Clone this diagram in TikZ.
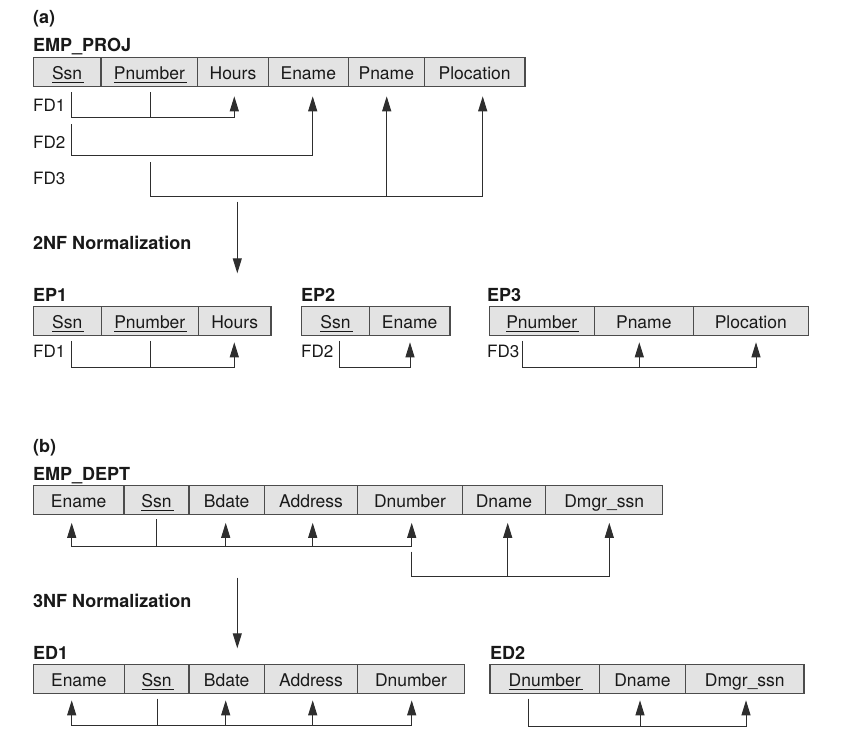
\documentclass[tikz,border=0pt]{standalone}
\usepackage{fontspec}
\setmainfont{TeX Gyre Heros}
\usetikzlibrary{arrows.meta}
\newcommand\cellfont{\fontsize{17.5}{19}\selectfont}
\newcommand\fdfont{\fontsize{17}{19}\selectfont}
\newcommand\lblfont{\fontsize{18}{20}\selectfont\bfseries}
\newcommand\ulk[1]{\setbox0\hbox{#1}\rlap{\smash{\rule[-3.8pt]{\dimexpr\wd0+2pt\relax}{0.9pt}}}\box0}
\tikzset{
  cell/.style={draw=black!70, fill=black!11, line width=1.1pt, minimum height=29.5pt, inner sep=0pt, text height=14pt, text depth=0pt, font=\cellfont, text=black!90},
  fd/.style={draw=black!82, line width=1pt},
  arr/.style={fd, -{Triangle[length=15pt,width=9pt]}},
  lbl/.style={anchor=base west, inner sep=0pt, font=\lblfont, text=black!90},
  fdl/.style={anchor=base west, inner sep=0pt, font=\fdfont, text=black!90},
}
\begin{document}
\begin{tikzpicture}[x=1pt,y=-1pt]
\fill[white] (0,0) rectangle (845,740);
\useasboundingbox (0,0) rectangle (845,740);

% ---------------- (a) ----------------
\node[lbl] (la) at (33,23) {(a)};
\node[lbl] (lpj) at (33,51.5) {EMP\_PROJ};
\node[cell, minimum width=67.7pt]  (pj-ssn)   at (67.15,72) {\ulk{Ssn}};
\node[cell, minimum width=96.7pt]  (pj-pnum)  at (149.35,72) {\ulk{Pnumber}};
\node[cell, minimum width=70.6pt]  (pj-hours) at (233,72) {Hours};
\node[cell, minimum width=80pt]    (pj-ename) at (308.3,72) {Ename};
\node[cell, minimum width=76pt]    (pj-pname) at (386.3,72) {Pname};
\node[cell, minimum width=100.7pt] (pj-ploc)  at (474.65,72) {Plocation};

\node[fdl] (pfd1) at (33,111) {FD1};
\node[fdl] (pfd2) at (33,148) {FD2};
\node[fdl] (pfd3) at (33,184.5) {FD3};

\coordinate (pfd1bus) at (0,117.3);
\coordinate (pfd2bus) at (0,155);
\coordinate (pfd3bus) at (0,196.7);
\coordinate (pfd2start) at (71.7,124);
\coordinate (pfd3start) at (150,162.3);
\coordinate (p-ssn-b)  at ([shift={(4.55,5)}]pj-ssn.south);
\coordinate (p-pnum-b) at ([shift={(0.65,5)}]pj-pnum.south);
\coordinate (p-hours-t) at ([shift={(1.3,9)}]pj-hours.south);
\coordinate (p-ename-t) at ([shift={(4.4,9)}]pj-ename.south);
\coordinate (p-pname-t) at ([shift={(0.4,9)}]pj-pname.south);
\coordinate (p-ploc-t)  at ([shift={(8.05,9)}]pj-ploc.south);

\draw[arr] (p-ssn-b) |- (pfd1bus -| p-hours-t) -- (p-hours-t);
\draw[fd] (p-pnum-b) -- (p-pnum-b |- pfd1bus);
\draw[arr] (pfd2start) |- (pfd2bus -| p-ename-t) -- (p-ename-t);
\draw[arr] (pfd3start) |- (pfd3bus -| p-ploc-t) -- (p-ploc-t);
\draw[arr] (pfd3bus -| p-pname-t) -- (p-pname-t);

% 2NF arrow
\node[lbl] (l2nf) at (33,249.5) {2NF Normalization};
\coordinate (n2a) at (237.3,201.7);
\coordinate (n2b) at (237.3,273.3);
\draw[arr] (n2a) -- (n2b);

% EP1
\node[lbl] (lep1) at (33,301) {EP1};
\node[cell, minimum width=68pt]   (ep1-ssn)   at (67.3,321) {\ulk{Ssn}};
\node[cell, minimum width=97pt]   (ep1-pnum)  at (149.8,321) {\ulk{Pnumber}};
\node[cell, minimum width=72.7pt] (ep1-hours) at (234.65,321) {Hours};
\node[fdl] (efd1) at (33,357) {FD1};
\coordinate (ep1bus) at (0,367.3);
\coordinate (e1-ssn-b)  at ([shift={(4.4,4.5)}]ep1-ssn.south);
\coordinate (e1-pnum-b) at ([shift={(0.2,4.5)}]ep1-pnum.south);
\coordinate (e1-hours-t) at ([shift={(-0.35,6)}]ep1-hours.south);
\draw[arr] (e1-ssn-b) |- (ep1bus -| e1-hours-t) -- (e1-hours-t);
\draw[fd] (e1-pnum-b) -- (e1-pnum-b |- ep1bus);

% EP2
\node[lbl] (lep2) at (301,301) {EP2};
\node[cell, minimum width=67.6pt] (ep2-ssn)   at (335.5,321) {\ulk{Ssn}};
\node[cell, minimum width=80.7pt] (ep2-ename) at (409.65,321) {Ename};
\node[fdl] (efd2) at (301,357) {FD2};
\coordinate (ep2bus) at (0,367.3);
\coordinate (e2-ssn-b)   at ([shift={(3.8,4.5)}]ep2-ssn.south);
\coordinate (e2-ename-t) at ([shift={(0.35,6)}]ep2-ename.south);
\draw[arr] (e2-ssn-b) |- (ep2bus -| e2-ename-t) -- (e2-ename-t);

% EP3
\node[lbl] (lep3) at (487,301) {EP3};
\node[cell, minimum width=105pt] (ep3-pnum)  at (541.8,321) {\ulk{Pnumber}};
\node[cell, minimum width=99pt]  (ep3-pname) at (643.8,321) {Pname};
\node[cell, minimum width=115pt] (ep3-ploc)  at (750.8,321) {Plocation};
\node[fdl] (efd3) at (487,357) {FD3};
\coordinate (ep3bus) at (0,367.3);
\coordinate (e3-pnum-b)  at ([shift={(-19.5,4.5)}]ep3-pnum.south);
\coordinate (e3-pname-t) at ([shift={(-4.5,6)}]ep3-pname.south);
\coordinate (e3-ploc-t)  at ([shift={(5.2,6)}]ep3-ploc.south);
\draw[arr] (e3-pnum-b) |- (ep3bus -| e3-ploc-t) -- (e3-ploc-t);
\draw[arr] (ep3bus -| e3-pname-t) -- (e3-pname-t);

% ---------------- (b) ----------------
\node[lbl] (lb) at (33,452) {(b)};
\node[lbl] (led) at (33,480) {EMP\_DEPT};
\node[cell, minimum width=90.7pt]  (ed-ename) at (78.65,500) {Ename};
\node[cell, minimum width=65pt]    (ed-ssn)   at (156.5,500) {\ulk{Ssn}};
\node[cell, minimum width=75.3pt]  (ed-bdate) at (226.65,500) {Bdate};
\node[cell, minimum width=93.4pt]  (ed-addr)  at (311,500) {Address};
\node[cell, minimum width=104.6pt] (ed-dnum)  at (410,500) {Dnumber};
\node[cell, minimum width=83.4pt]  (ed-dname) at (504,500) {Dname};
\node[cell, minimum width=117pt]   (ed-dmgr)  at (604.2,500) {Dmgr\_ssn};

\coordinate (edbus1) at (0,546);
\coordinate (edbus2) at (0,576);
\coordinate (d-ename-t) at ([shift={(-6.95,7.5)}]ed-ename.south);
\coordinate (d-ssn-b)   at ([shift={(0.2,4)}]ed-ssn.south);
\coordinate (d-bdate-t) at ([shift={(-0.95,7.5)}]ed-bdate.south);
\coordinate (d-addr-t)  at ([shift={(1.7,7.5)}]ed-addr.south);
\coordinate (d-dnum-t)  at ([shift={(1.7,7.5)}]ed-dnum.south);
\coordinate (d-dname-t) at ([shift={(3.7,7.5)}]ed-dname.south);
\coordinate (d-dmgr-t)  at ([shift={(5.1,7.5)}]ed-dmgr.south);
\coordinate (dstart) at (411.7,551.7);

\draw[arr] (edbus1 -| d-dnum-t) -| (d-ename-t);
\draw[arr] (edbus1 -| d-dnum-t) -- (d-dnum-t);
\draw[fd] (d-ssn-b) -- (d-ssn-b |- edbus1);
\draw[arr] (edbus1 -| d-bdate-t) -- (d-bdate-t);
\draw[arr] (edbus1 -| d-addr-t) -- (d-addr-t);
\draw[arr] (dstart) |- (edbus2 -| d-dmgr-t) -- (d-dmgr-t);
\draw[arr] (edbus2 -| d-dname-t) -- (d-dname-t);

% 3NF arrow
\node[lbl] (l3nf) at (33,607) {3NF Normalization};
\coordinate (n3a) at (237.3,577.7);
\coordinate (n3b) at (237.3,648.3);
\draw[arr] (n3a) -- (n3b);

% ED1
\node[lbl] (led1) at (33,659) {ED1};
\node[cell, minimum width=91pt]    (e1-ename) at (78.8,679) {Ename};
\node[cell, minimum width=64.7pt]  (e1-ssn)   at (156.65,679) {\ulk{Ssn}};
\node[cell, minimum width=75.3pt]  (e1-bdate) at (226.65,679) {Bdate};
\node[cell, minimum width=93.4pt]  (e1-addr)  at (311,679) {Address};
\node[cell, minimum width=106.6pt] (e1-dnum)  at (411,679) {Dnumber};
\coordinate (ed1bus) at (0,725);
\coordinate (f-ename-t) at ([shift={(-7.1,6)}]e1-ename.south);
\coordinate (f-ssn-b)   at ([shift={(1.05,4.3)}]e1-ssn.south);
\coordinate (f-bdate-t) at ([shift={(-0.95,6)}]e1-bdate.south);
\coordinate (f-addr-t)  at ([shift={(1.7,6)}]e1-addr.south);
\coordinate (f-dnum-t)  at ([shift={(0.7,6)}]e1-dnum.south);
\draw[arr] (ed1bus -| f-dnum-t) -| (f-ename-t);
\draw[arr] (ed1bus -| f-dnum-t) -- (f-dnum-t);
\draw[fd] (f-ssn-b) -- (f-ssn-b |- ed1bus);
\draw[arr] (ed1bus -| f-bdate-t) -- (f-bdate-t);
\draw[arr] (ed1bus -| f-addr-t) -- (f-addr-t);

% ED2
\node[lbl] (led2) at (490,659) {ED2};
\node[cell, minimum width=109.3pt] (e2-dnum)  at (544.65,679) {\ulk{Dnumber}};
\node[cell, minimum width=86.4pt]  (e2-dname) at (642.5,679) {Dname};
\node[cell, minimum width=118.3pt] (e2-dmgr)  at (744.85,679) {Dmgr\_ssn};
\coordinate (ed2bus) at (0,726);
\coordinate (g-dnum-b)  at ([shift={(-16.35,4.3)}]e2-dnum.south);
\coordinate (g-dname-t) at ([shift={(-2.5,6)}]e2-dname.south);
\coordinate (g-dmgr-t)  at ([shift={(1.15,6)}]e2-dmgr.south);
\draw[arr] (g-dnum-b) |- (ed2bus -| g-dmgr-t) -- (g-dmgr-t);
\draw[arr] (ed2bus -| g-dname-t) -- (g-dname-t);
\end{tikzpicture}
\end{document}
